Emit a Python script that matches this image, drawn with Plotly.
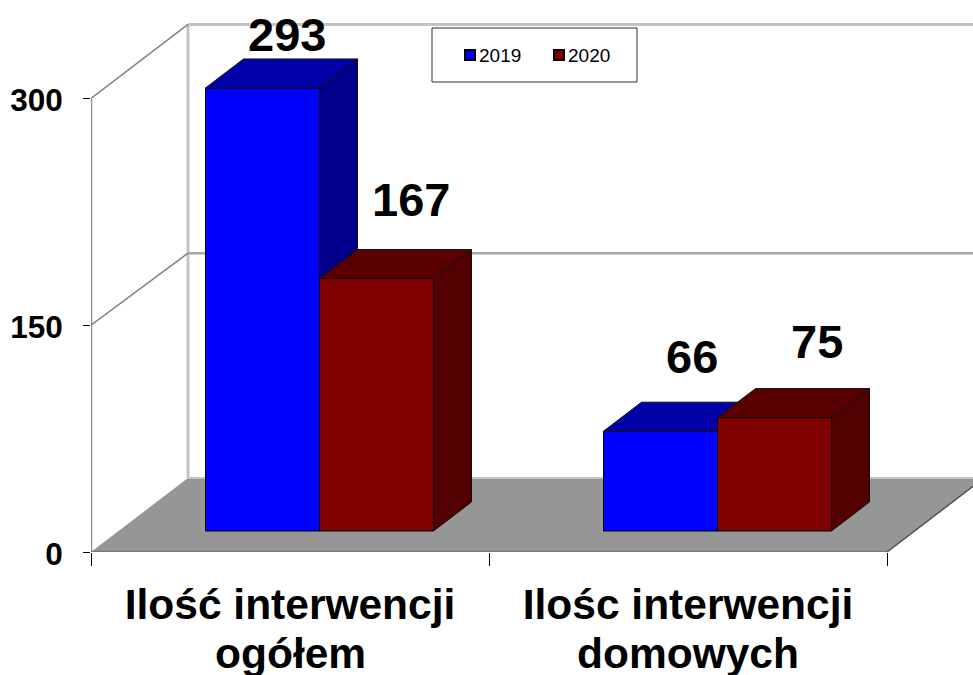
import plotly.graph_objects as go

categories_line1 = ["Ilość interwencji", "Ilośc interwencji"]
categories_line2 = ["ogółem", "domowych"]
years = ["2019", "2020"]
values_2019 = [293, 66]
values_2020 = [167, 75]
y_ticks = [0, 150, 300]

# ---- projection of the oblique 3D box (in data units) ----
W, H = 973, 675
ML, MB = 91, 123
PX_X = 398.0          # px per category
PX_Y = 1.512          # px per value unit
XMAX = (W - ML) / PX_X
YMAX = (H - MB) / PX_Y
WALL_DX, WALL_DY = 97 / PX_X, 74 / PX_Y
BAR_DX0, BAR_DY0 = 29.5 / PX_X, 21 / PX_Y
BAR_DX, BAR_DY = 38 / PX_X, 29 / PX_Y
BAR_W = 114 / PX_X
PW, PH = W - ML, H - MB


def px(x):
    return (x - ML) / PW


def py(y):
    return 1 - y / PH


fig = go.Figure()


def poly(xs, ys, fill, line="rgba(0,0,0,0)", lw=1, ax=""):
    fig.add_trace(go.Scatter(x=xs, y=ys, mode="lines", fill="toself", fillcolor=fill,
                             line=dict(color=line, width=lw), showlegend=False,
                             hoverinfo="skip", cliponaxis=False,
                             xaxis="x" + ax, yaxis="y" + ax))


def seg(xs, ys, color, lw):
    fig.add_trace(go.Scatter(x=xs, y=ys, mode="lines", line=dict(color=color, width=lw),
                             showlegend=False, hoverinfo="skip", cliponaxis=False))


# floor
fr = (XMAX - 2) / WALL_DX
poly([0, WALL_DX, XMAX, XMAX, 2], [0, WALL_DY, WALL_DY, WALL_DY * fr, 0], "#969696")
# walls and gridlines
seg([WALL_DX, WALL_DX], [WALL_DY, WALL_DY + 300], "#c4c4c4", 3)
seg([0, 0], [0, 300], "#8c8c8c", 2.5)
seg([WALL_DX, XMAX], [WALL_DY + 300, WALL_DY + 300], "#c4c4c4", 3)
seg([WALL_DX, XMAX], [WALL_DY + 150 - 1.3, WALL_DY + 150 - 1.3], "#a8a8a8", 2.5)
seg([WALL_DX, XMAX], [WALL_DY, WALL_DY], "#c4c4c4", 2)
seg([0, WALL_DX], [300, 300 + WALL_DY], "#808080", 1.5)
seg([0, WALL_DX], [150, 150 + WALL_DY - 1.3], "#808080", 1.5)
seg([0, 2], [0, 0], "#7a7a7a", 2.5)
seg([2, XMAX], [0, WALL_DY * fr], "#505050", 1.5)

# bars: each series sits on its own overlaid axes so that it paints over the one before it
series = [
    (years[0], values_2019, "#0000ff", "#0000a8", "#00008c", "2", -0.5),
    (years[1], values_2020, "#800000", "#5a0000", "#520000", "3", 0.5),
]
for name, vals, front, top, side, ax, sgn in series:
    xc = [i + 0.5 + BAR_DX0 + sgn * BAR_W for i in range(len(vals))]
    fig.add_trace(go.Bar(x=xc, y=vals, base=[BAR_DY0] * len(vals), width=BAR_W, name=name,
                         marker=dict(color=front, line=dict(color="black", width=1)),
                         xaxis="x" + ax, yaxis="y" + ax, hoverinfo="skip", showlegend=False))
    for x, v in zip(xc, vals):
        l, r = x - BAR_W / 2, x + BAR_W / 2
        b, t = BAR_DY0, BAR_DY0 + v
        poly([l, r, r + BAR_DX, l + BAR_DX, l], [t, t, t + BAR_DY, t + BAR_DY, t],
             top, "#101010", 1, ax)
        poly([r, r + BAR_DX, r + BAR_DX, r, r], [b, b + BAR_DY, t + BAR_DY, t, b],
             side, "#101010", 1, ax)

# value labels: keys are (category index, series index)
label_shift = {(0, 0): 53, (0, 1): 79, (1, 0): 75, (1, 1): 76}
label_dx = {(0, 0): 26, (0, 1): 36, (1, 0): 33, (1, 1): 44}
annotations = []
for s, (name, vals, *_rest) in enumerate(series):
    sgn = _rest[-1]
    for i, v in enumerate(vals):
        annotations.append(dict(
            x=i + 0.5 + BAR_DX0 - 2 / PX_X + sgn * BAR_W, y=BAR_DY0 + v, xref="x", yref="y",
            text=f"<b>{v}</b>", showarrow=False, xanchor="center", yanchor="middle",
            xshift=label_dx[(i, s)], yshift=label_shift[(i, s)],
            font=dict(family="Liberation Sans", size=47, color="black")))

# second line of the category labels (tighter leading than tick labels allow)
for i, txt in enumerate(categories_line2):
    annotations.append(dict(
        x=i + 0.5, y=py(653), xref="x", yref="paper", text=f"<b>{txt}</b>", showarrow=False,
        xanchor="center", yanchor="middle",
        font=dict(family="Liberation Sans", size=42.5, color="black")))

# legend box
shapes = [dict(type="rect", xref="paper", yref="paper", x0=px(432), x1=px(637), y0=py(82), y1=py(28),
               line=dict(color="#303030", width=1), fillcolor="white", layer="above")]
legend_swatch_x = [464, 553]
legend_text_x = [479, 568]
for name, (_n, _v, front, *_r), sx, tx in zip(years, series, legend_swatch_x, legend_text_x):
    shapes.append(dict(type="rect", xref="paper", yref="paper", x0=px(sx + 1), x1=px(sx + 11),
                       y0=py(60), y1=py(50), line=dict(color="black", width=2),
                       fillcolor=front, layer="above"))
    annotations.append(dict(x=px(tx), y=py(55), xref="paper", yref="paper", text=name,
                            showarrow=False, xanchor="left", yanchor="middle", xshift=-2,
                            font=dict(family="Liberation Sans", size=19, color="black")))

hidden = dict(range=[0, XMAX], visible=False, overlaying="x", domain=[0, 1])
hiddeny = dict(range=[0, YMAX], visible=False, overlaying="y")

fig.update_layout(
    width=W, height=H, margin=dict(l=ML, r=0, t=0, b=MB, autoexpand=False),
    paper_bgcolor="white", plot_bgcolor="white", barmode="overlay",
    xaxis=dict(range=[0, XMAX], tickvals=[0.5, 1.5], ticktext=categories_line1, ticks="",
               showgrid=False, zeroline=False, showline=False, ticklabelstandoff=23,
               tickfont=dict(family="Liberation Sans", size=42.5, color="black", weight="bold"),
               minor=dict(tickvals=[0, 1, 2], ticks="outside", ticklen=13, tickcolor="black",
                          tickwidth=1, showgrid=False)),
    yaxis=dict(range=[0, YMAX], tickvals=y_ticks, ticks="outside", ticklen=7, tickcolor="black",
               tickwidth=1, showgrid=False, zeroline=False, showline=False, ticklabelstandoff=14,
               ticklabelshift=2,
               tickfont=dict(family="Liberation Sans", size=31.5, color="black", weight="bold")),
    xaxis2=hidden, xaxis3=hidden, yaxis2=hiddeny, yaxis3=hiddeny,
    shapes=shapes,
    annotations=annotations,
    showlegend=False,
)

fig.write_html("out.html", config=dict(displayModeBar=False),
               post_script="document.body.style.margin='0';")
